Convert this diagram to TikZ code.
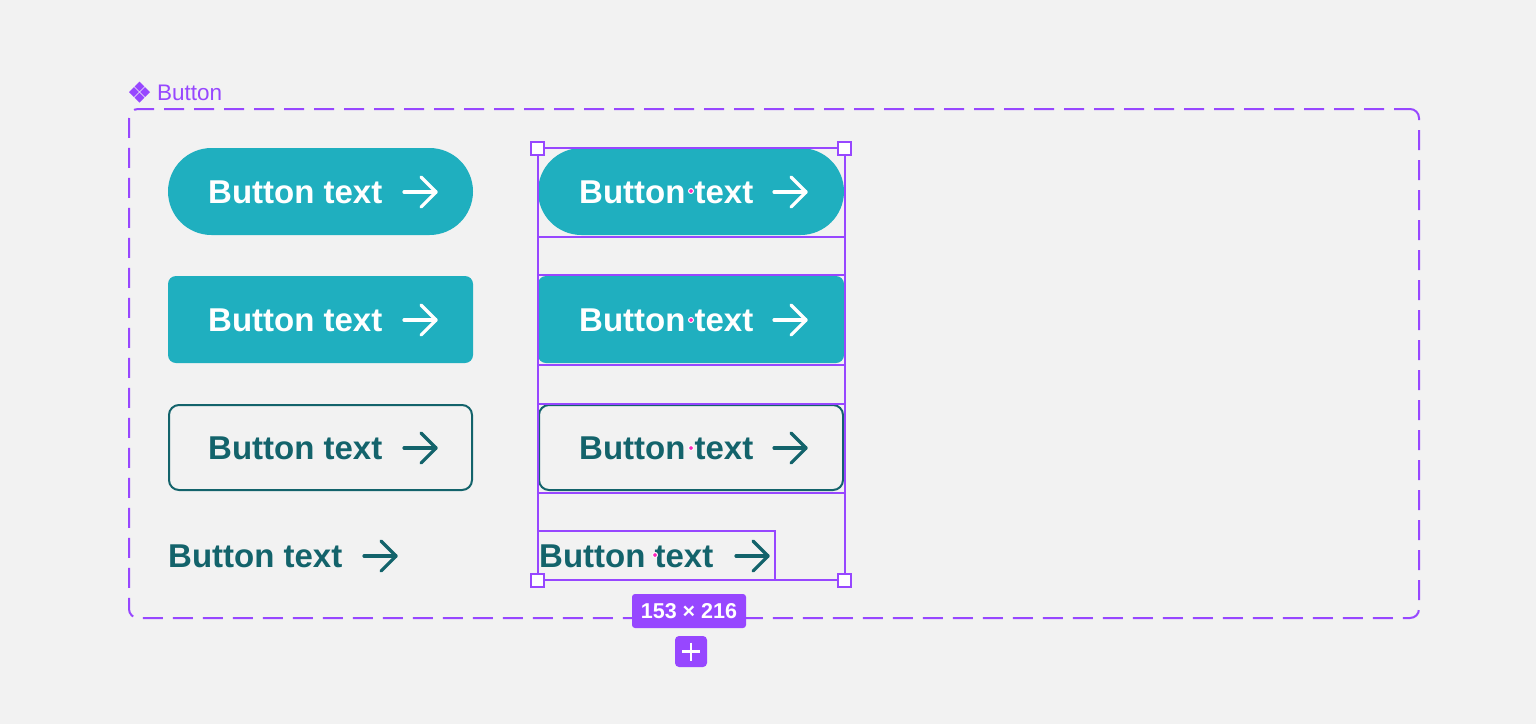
\documentclass[tikz,border=0pt]{standalone}
\usepackage{fontspec}
\setmainfont{Liberation Sans}
\usetikzlibrary{calc}
\definecolor{bg}{HTML}{F2F2F2}
\definecolor{fpurple}{HTML}{9747FF}
\definecolor{teal}{HTML}{1FAFBF}
\definecolor{dteal}{HTML}{13636B}
\definecolor{pinkdot}{HTML}{FF24BD}
\tikzset{
  btnpill/.style={draw=none,fill=teal,rounded corners=43.5pt,minimum width=305pt,minimum height=87pt,inner sep=0pt},
  btnrect/.style={draw=none,fill=teal,rounded corners=8pt,minimum width=305pt,minimum height=87pt,inner sep=0pt},
  btnout/.style={draw=dteal,line width=2pt,fill=none,rounded corners=10pt,minimum width=303pt,minimum height=85pt,inner sep=0pt},
  btxt/.style={anchor=base west,inner sep=0pt,font=\fontsize{33}{38}\selectfont\bfseries},
  sel/.style={draw=fpurple,line width=2pt},
  handle/.style={draw=fpurple,line width=2pt,fill=white,minimum size=13pt,inner sep=0pt},
  pdot/.style={circle,fill=pinkdot,draw=white,line width=1pt,minimum size=5pt,inner sep=0pt},
}
\newcommand\btnarrow[3]{%
  \draw[#1,line width=3.2pt,line cap=round,line join=round] (#2,#3) -- ++(32,0);
  \draw[#1,line width=3.2pt,line cap=round,line join=round] ($(#2,#3)+(17,-15)$) -- ($(#2,#3)+(32,0)$) -- ($(#2,#3)+(17,15)$);
}
\begin{document}
\begin{tikzpicture}[x=1pt,y=-1pt]
\useasboundingbox[fill=bg] (0,0) rectangle (1536,724);
% outer dashed frame
\node[draw=fpurple,line width=2pt,dash pattern=on 20pt off 10pt,dash phase=4pt,rounded corners=9pt,minimum width=1290pt,minimum height=509pt,inner sep=0pt] (frame) at (774,363.5) {};
% label icon
\foreach \dx/\dy in {0/-5.6,5.6/0,0/5.6,-5.6/0}{
  \fill[fpurple] ($(139.5,92)+(\dx,\dy)$) ++(0,-4.9) -- ++(4.9,4.9) -- ++(-4.9,4.9) -- ++(-4.9,-4.9) -- cycle;
}
\node[anchor=base west,inner sep=0pt,text=fpurple,font=\fontsize{22.5}{26}\selectfont] (lbl) at (157,100) {Button};
% left column
\node[btnpill] (l1) at (320.5,191.5) {};
\node[btxt,text=white] (l1t) at (208,203.5) {Button text};
\btnarrow{white}{404}{192}
\node[btnrect] (l2) at (320.5,319.5) {};
\node[btxt,text=white] (l2t) at (208,331.5) {Button text};
\btnarrow{white}{404}{320}
\node[btnout] (l3) at (320.5,447.5) {};
\node[btxt,text=dteal] (l3t) at (208,459.5) {Button text};
\btnarrow{dteal}{404}{448}
\node[btxt,text=dteal] (l4t) at (168,567.5) {Button text};
\btnarrow{dteal}{364}{556}
% right column
\node[btnpill,minimum width=306pt] (r1) at (691,191.5) {};
\node[btxt,text=white] (r1t) at (579,203.5) {Button text};
\btnarrow{white}{774}{192}
\node[btnrect,minimum width=306pt] (r2) at (691,319.5) {};
\node[btxt,text=white] (r2t) at (579,331.5) {Button text};
\btnarrow{white}{774}{320}
\node[btnout,minimum width=304pt] (r3) at (691,447.5) {};
\node[btxt,text=dteal] (r3t) at (579,459.5) {Button text};
\btnarrow{dteal}{774}{448}
\node[btxt,text=dteal] (r4t) at (539,567.5) {Button text};
\btnarrow{dteal}{736}{556}
% selection overlays
\draw[sel] (537.5,148) rectangle (844.5,580);
\draw[sel] (537.5,236.5) -- (844.5,236.5);
\draw[sel] (537.5,275) -- (844.5,275);
\draw[sel] (537.5,364.5) -- (844.5,364.5);
\draw[sel] (537.5,403.5) -- (844.5,403.5);
\draw[sel] (537.5,492.5) -- (844.5,492.5);
\draw[sel] (537.5,531) rectangle (775,580);
\node[handle] (h1) at (537.5,148) {};
\node[handle] (h2) at (844,148) {};
\node[handle] (h3) at (537.5,580) {};
\node[handle] (h4) at (844,580) {};
\node[pdot] (d1) at (691,191) {};
\node[pdot] (d2) at (691,320) {};
\node[pdot] (d3) at (691,448) {};
\node[pdot] (d4) at (655,555) {};
% size label
\node[fill=fpurple,rounded corners=3pt,minimum width=114pt,minimum height=34pt,inner sep=0pt,text=white,font=\fontsize{21.5}{24}\selectfont\bfseries] (size) at (689,611) {153 × 216};
% plus
\node[fill=fpurple,rounded corners=4pt,minimum width=32pt,minimum height=31pt,inner sep=0pt] (plus) at (691,651.5) {};
\draw[white,line width=2.8pt] (682,651.5) -- (700,651.5) (691,642.5) -- (691,660.5);
\end{tikzpicture}
\end{document}
